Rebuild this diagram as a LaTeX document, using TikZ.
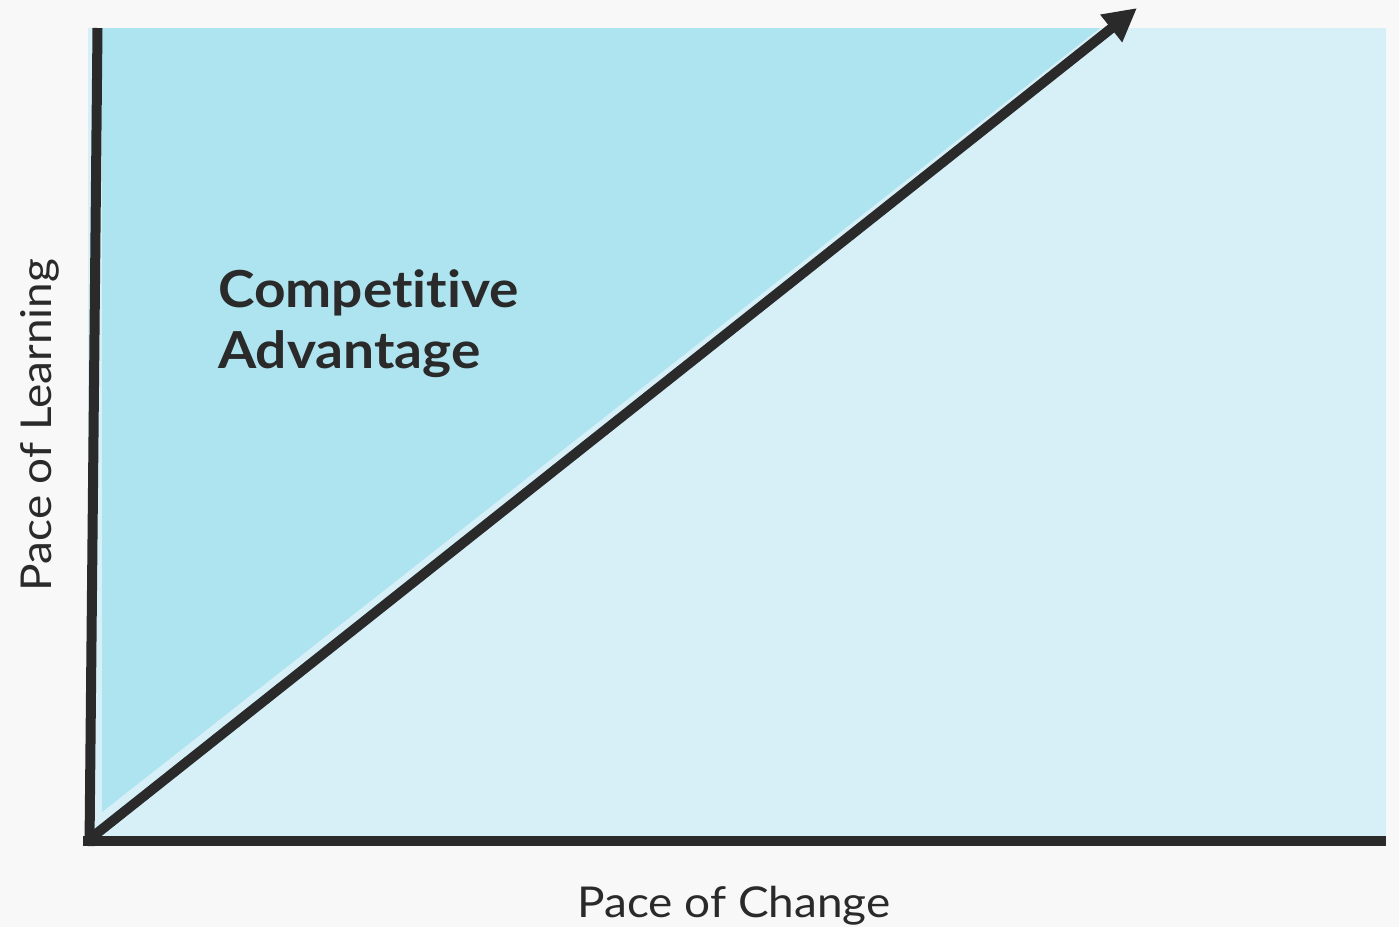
\documentclass[tikz,border=0pt]{standalone}
\usepackage{fontspec}
\setmainfont{Lato}[Ligatures=NoCommon, FakeStretch=1.08]
\usetikzlibrary{arrows.meta}
\definecolor{bgc}{HTML}{F8F8F8}
\definecolor{lightblue}{HTML}{D7F0F7}
\definecolor{darkblue}{HTML}{AEE3F0}
\definecolor{ink}{HTML}{2A2A2A}
\tikzset{
  axisline/.style={draw=ink, line width=10pt},
  bigarrow/.style={draw=ink, line width=10pt, -{Triangle[length=33pt,width=33pt]}},
  titletext/.style={anchor=base west, inner sep=0pt, text=ink, font=\fontsize{51}{60}\selectfont\bfseries},
  axislabel/.style={inner sep=0pt, text=ink, font=\fontsize{42.5}{50}\selectfont}
}
\begin{document}
\begin{tikzpicture}[x=1pt,y=-1pt]
\fill[bgc] (0,0) rectangle (1399,927);
\useasboundingbox (0,0) rectangle (1399,927);
% regions
\fill[lightblue] (88,28) rectangle (1386,838);
\fill[darkblue] (102,28) -- (1100,28) -- (102,812) -- cycle;
% axes
\coordinate (ytop) at (97.5,28);
\coordinate (ybot) at (89.5,846);
\coordinate (xl) at (83,841);
\coordinate (xr) at (1386,841);
\draw[axisline] (ytop) -- (ybot);
\draw[axisline] (xl) -- (xr);
% arrow
\coordinate (O) at (91,838);
\coordinate (T) at (1137,8);
\draw[bigarrow] (O) -- (T);
% texts
\node[titletext] (t1) at (218,307) {Competitive};
\node[titletext] (t2) at (218,368) {Advantage};
\node[axislabel, anchor=base] (xlab) at (734,917) {Pace of Change};
\node[axislabel, anchor=base, rotate=90] (ylab) at (51,425) {Pace of Learning};
\end{tikzpicture}
\end{document}
